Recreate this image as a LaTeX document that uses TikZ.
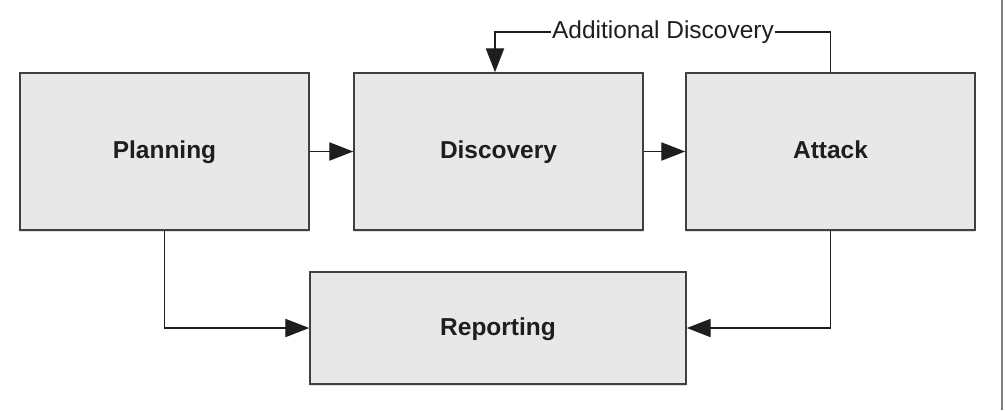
\documentclass[tikz,border=0pt]{standalone}
\usepackage{fontspec}
\setmainfont{Liberation Sans}
\usetikzlibrary{arrows.meta,shadows}
\definecolor{boxfill}{HTML}{E8E8E8}
\definecolor{boxline}{HTML}{404040}
\definecolor{ink}{HTML}{1E1E1E}
\tikzset{
  phase/.style={draw=boxline, fill=boxfill, line width=1.1pt, text=ink,
    font=\fontsize{17.4}{20}\selectfont\bfseries,
    text height=14pt, text depth=3.4pt,
    drop shadow={shadow xshift=0pt, shadow yshift=-1.2pt, opacity=0.25}},
  flow/.style={-{Triangle[length=17pt,width=13pt]}, line width=0.9pt, color=ink},
}
\begin{document}
\begin{tikzpicture}[x=0.025cm, y=-0.025cm]
  \useasboundingbox (0,0) rectangle (1005,410);
  \node[phase, minimum width=7.225cm, minimum height=3.925cm] (planning) at (164.5,151.5) {Planning};
  \node[phase, minimum width=7.225cm, minimum height=3.925cm] (discovery) at (498.5,151.5) {Discovery};
  \node[phase, minimum width=7.225cm, minimum height=3.925cm] (attack) at (830.5,151.5) {Attack};
  \node[phase, minimum width=9.4cm, minimum height=2.8cm] (reporting) at (498,328) {Reporting};
  \coordinate (loop) at (663,32);
  \begin{scope}[flow]
    \draw (planning) to (discovery);
    \draw (discovery) to (attack);
    \draw (planning.south) |- (reporting.west);
    \draw (attack.south) |- (reporting.east);
    \draw (attack.north) |- (loop) -| ([xshift=-2.5]discovery.north);
  \end{scope}
  \node[fill=white, inner sep=1pt, text=ink, font=\fontsize{17.4}{20}\selectfont] (extra) at (loop) {Additional Discovery};
  \draw[line width=1.5pt, color=gray] (1002,0) -- (1002,410);
\end{tikzpicture}
\end{document}
